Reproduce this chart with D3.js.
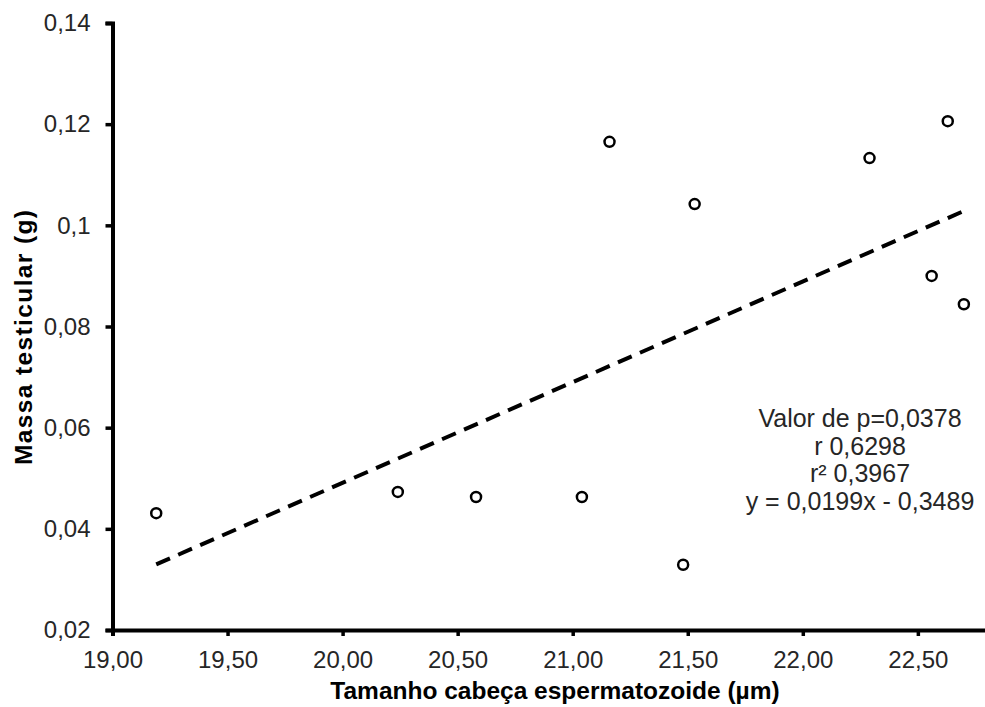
<!DOCTYPE html>
<html>
<head>
<meta charset="utf-8">
<script src="https://cdn.jsdelivr.net/npm/d3@7"></script>
<style>
  body { margin: 0; background: #fff; }
  svg { display: block; font-family: "Liberation Sans", Arial, sans-serif; }
</style>
</head>
<body>
<svg id="chart"></svg>
<script>
// tamanho da cabeça (µm) x massa testicular (g)
const headSize = [19.19, 20.24, 20.58, 21.04, 21.16, 21.48, 21.53, 22.29, 22.56, 22.63, 22.70];
const testisMass = [0.0431, 0.0473, 0.0463, 0.0463, 0.1165, 0.0329, 0.1042, 0.1133, 0.0900, 0.1206, 0.0844];

const xTicks = [19, 19.5, 20, 20.5, 21, 21.5, 22, 22.5];
const xTickLabels = ["19,00", "19,50", "20,00", "20,50", "21,00", "21,50", "22,00", "22,50"];
const yTicks = [0.02, 0.04, 0.06, 0.08, 0.10, 0.12, 0.14];
const yTickLabels = ["0,02", "0,04", "0,06", "0,08", "0,1", "0,12", "0,14"];

const slope = 0.0199, intercept = -0.3489;
const statsLines = ["Valor de p=0,0378", "r 0,6298", "r² 0,3967", "y = 0,0199x - 0,3489"];

const width = 985, height = 707;
const svg = d3.select("#chart")
    .attr("width", width)
    .attr("height", height)
    .attr("viewBox", [0, 0, width, height]);

// o eixo x vai até 23,00 (fora da imagem)
const x = d3.scaleLinear().domain([19, 23]).range([112.5, 1032.9]);
const y = d3.scaleLinear().domain([0.02, 0.14]).range([630, 23]);

// eixo y
const yAxis = svg.append("g")
    .attr("transform", "translate(" + x(19) + ",0)")
    .call(d3.axisLeft(y).tickValues(yTicks)
        .tickFormat((d, i) => yTickLabels[i]).tickSizeOuter(0).tickSize(7).tickPadding(15));
yAxis.select(".domain").attr("stroke-width", 4);
yAxis.selectAll(".tick line").attr("stroke-width", 3.5);
yAxis.selectAll("text").attr("font-size", 24).attr("fill", "#262626");

// eixo x
const xAxis = svg.append("g")
    .attr("transform", "translate(0," + y(0.02) + ")")
    .call(d3.axisBottom(x).tickValues(xTicks)
        .tickFormat((d, i) => xTickLabels[i]).tickSizeOuter(0).tickSize(6).tickPadding(15));
xAxis.select(".domain").attr("stroke-width", 4);
xAxis.selectAll(".tick line").attr("stroke-width", 3.5);
xAxis.selectAll("text").attr("font-size", 24).attr("fill", "#262626");

// linha de tendência
const xMin = d3.min(headSize), xMax = d3.max(headSize);
svg.append("path")
    .attr("d", d3.line()([[x(xMin), y(slope * xMin + intercept)], [x(xMax), y(slope * xMax + intercept)]]))
    .attr("stroke", "black")
    .attr("stroke-width", 4)
    .attr("stroke-dasharray", "15,9")
    .attr("fill", "none");

// pontos
svg.append("g")
    .selectAll("circle")
    .data(headSize)
    .join("circle")
    .attr("cx", d => x(d))
    .attr("cy", (d, i) => y(testisMass[i]))
    .attr("r", 5)
    .attr("fill", "white")
    .attr("stroke", "black")
    .attr("stroke-width", 2.5);

// estatísticas
svg.append("text")
    .attr("text-anchor", "middle")
    .attr("font-size", 25)
    .attr("fill", "#262626")
    .selectAll("tspan")
    .data(statsLines)
    .join("tspan")
    .attr("x", 860)
    .attr("y", (d, i) => 427 + i * 27.5)
    .text(d => d);

// títulos dos eixos
svg.append("text")
    .attr("x", 555)
    .attr("y", 699)
    .attr("text-anchor", "middle")
    .attr("font-size", 24.5)
    .attr("font-weight", "bold")
    .attr("fill", "black")
    .text("Tamanho cabeça espermatozoide (µm)");

svg.append("text")
    .attr("transform", "translate(32,337.5) rotate(-90)")
    .attr("text-anchor", "middle")
    .attr("font-size", 24.5)
    .attr("textLength", 255)
    .attr("font-weight", "bold")
    .attr("fill", "black")
    .text("Massa testicular (g)");
</script>
</body>
</html>
